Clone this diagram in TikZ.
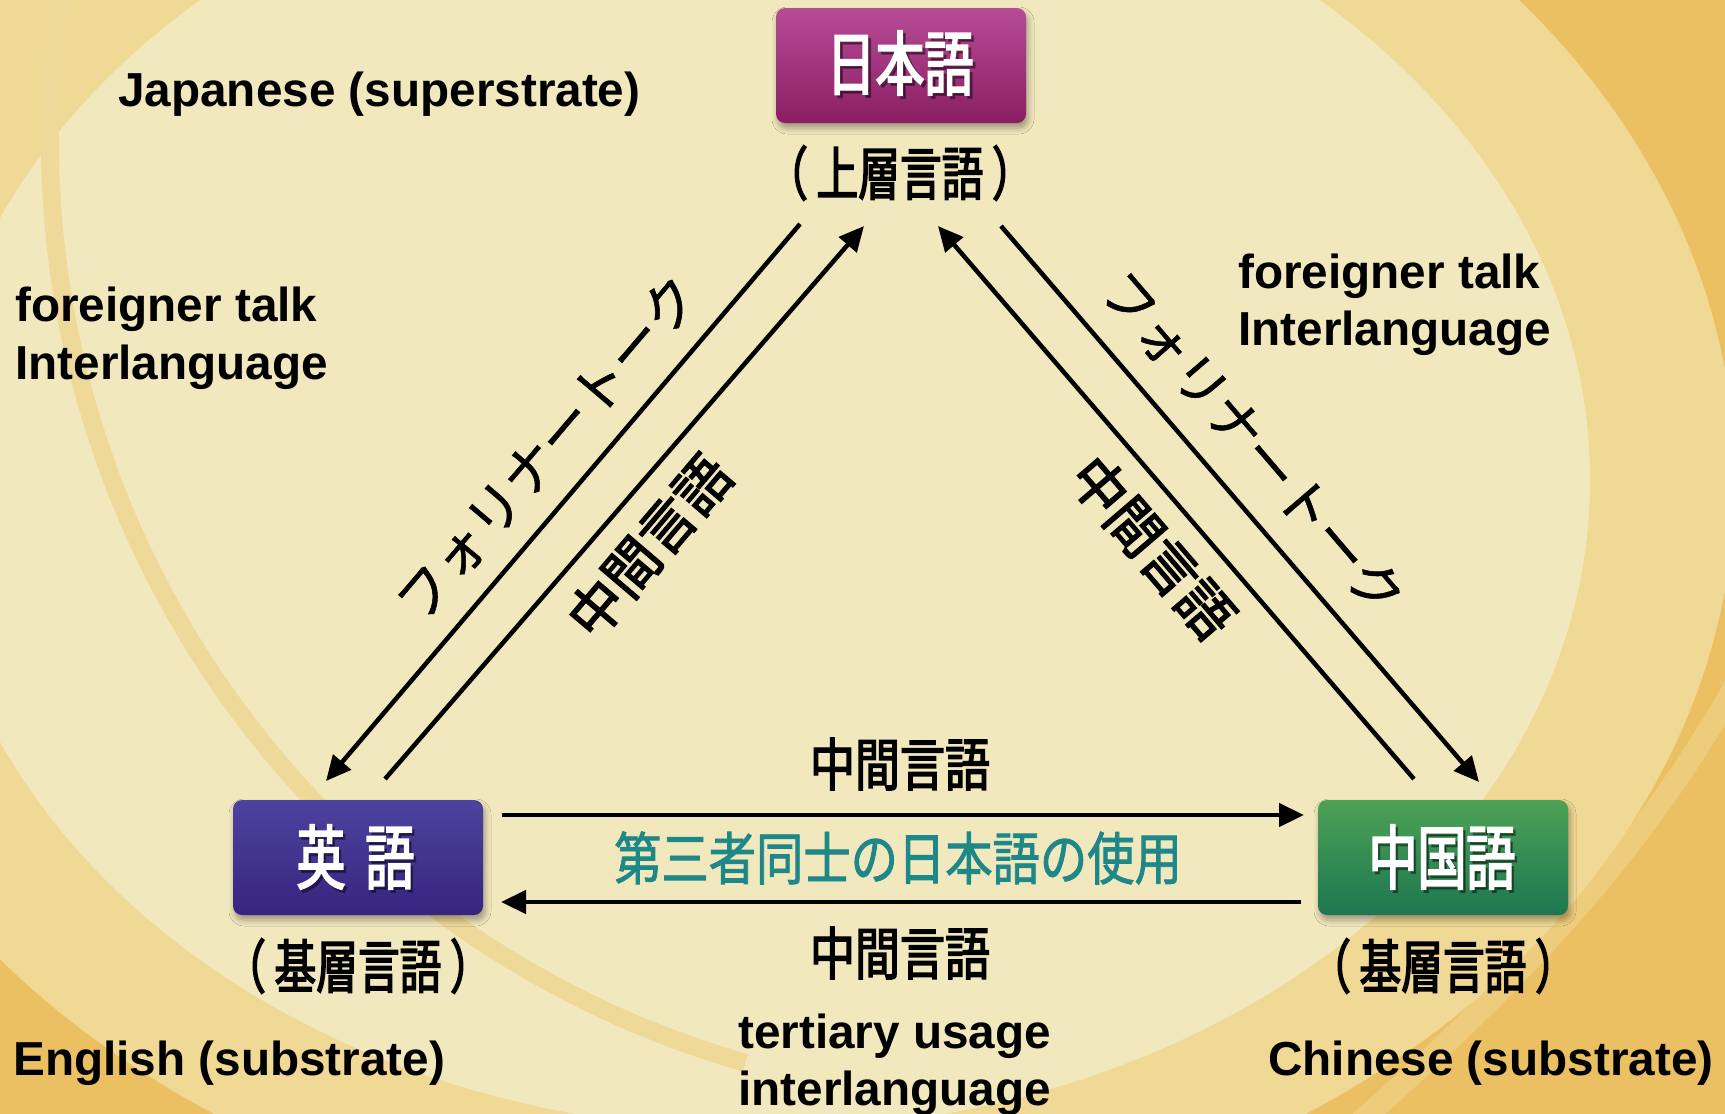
\documentclass[tikz,border=0pt]{standalone}
\usepackage{fontspec}
\setmainfont{Liberation Sans}
\newfontfamily\jpbox{Noto Sans CJK JP}[FakeStretch=0.70,FakeBold=2.5]
\newfontfamily\jpsub{Noto Sans CJK JP}[FakeStretch=0.72,FakeBold=2.5,RawFeature=+palt]
\newfontfamily\jpmid{Noto Sans CJK JP}[FakeStretch=0.79,FakeBold=2.5]
\newfontfamily\jpteal{Noto Sans CJK JP}[FakeStretch=0.83,FakeBold=1.5]
\newfontfamily\jpdiagm{Noto Sans CJK JP}[FakeStretch=0.97,FakeBold=2.5]
\newfontfamily\jpdiag{Noto Sans CJK JP}[FakeBold=1]
\usetikzlibrary{arrows.meta,shadows.blur}
\definecolor{bgpale}{HTML}{F2E8BE}
\definecolor{bgband}{HTML}{F0D994}
\definecolor{bggold}{HTML}{EBC062}
\definecolor{arcband}{HTML}{EFD999}
\definecolor{tealtext}{HTML}{1E8787}
\definecolor{jaTop}{HTML}{B54C96}
\definecolor{jaBot}{HTML}{8A1E62}
\definecolor{enTop}{HTML}{4C439E}
\definecolor{enBot}{HTML}{37247F}
\definecolor{zhTop}{HTML}{4DA256}
\definecolor{zhBot}{HTML}{1D7650}
\newcommand\fsz[1]{\fontsize{#1}{#1}\selectfont}
\begin{document}
\begin{tikzpicture}[x=1pt,y=-1pt,
  enlabel/.style={font=\fsz{47.7}\bfseries, inner sep=0pt, anchor=base west},
  langbox/.style={rounded corners=9pt, minimum width=250pt, minimum height=115pt, inner sep=0pt,
    blur shadow={shadow xshift=2pt, shadow yshift=-5pt, shadow blur radius=6pt, shadow opacity=35}},
  boxtext/.style={font=\jpbox\fsz{70}, text=white, inner sep=0pt},
  boxtextshadow/.style={font=\jpbox\fsz{70}, text=black, opacity=0.35, inner sep=0pt},
  sublabel/.style={font=\jpsub\fsz{58}, inner sep=0pt},
  midlabel/.style={font=\jpmid\fsz{57}, inner sep=0pt},
  teallabel/.style={font=\jpteal\fsz{57}, text=tealtext, inner sep=0pt},
  diagmid/.style={font=\jpdiagm\fsz{56}, inner sep=0pt},
  diagkana/.style={font=\jpdiag\fsz{54}, inner sep=0pt},
  arr/.style={line width=4.5pt, -{Triangle[length=25pt,width=23pt]}},
]
\useasboundingbox (0,0) rectangle (1725,1114);
% background
\begin{scope}
\clip (0,0) rectangle (1725,1114);
\fill[bggold] (0,0) rectangle (1725,1114);
\fill[bgband] (760,480) ellipse[x radius=975, y radius=765];
\fill[bgpale] (760,480) ellipse[x radius=830, y radius=650];
\draw[arcband, line width=18pt] (64.6,-26.7) arc[start angle=190, end angle=106, radius=960];
\draw[bgband, line width=22pt, opacity=0.5] (1760,640) .. controls (1650,850) and (1520,980) .. (1340,1140);
\end{scope}

% English annotations
\node[enlabel] (jpnen) at (118,106) {Japanese (superstrate)};
\node[enlabel] (ftl) at (15,321) {foreigner talk};
\node[enlabel] (ill) at (15,379) {Interlanguage};
\node[enlabel] (ftr) at (1238,288) {foreigner talk};
\node[enlabel] (ilr) at (1238,345) {Interlanguage};
\node[enlabel] (enen) at (13,1075) {English (substrate)};
\node[enlabel] (zhen) at (1268,1075) {Chinese (substrate)};
\node[enlabel] (tu) at (738,1048) {tertiary usage};
\node[enlabel] (ilg) at (738,1105) {interlanguage};

% language boxes
\node[langbox, top color=jaTop, bottom color=jaBot] (ja) at (901,65.5) {};
\node[boxtextshadow] (jas) at (903,66) {日本語};
\node[boxtext] (jat) at (900,63) {日本語};
\node[langbox, top color=enTop, bottom color=enBot] (en) at (358,857.5) {};
\node[boxtextshadow] (ens) at (358,860) {英\hspace{20pt}語};
\node[boxtext] (ent) at (355.5,857) {英\hspace{20pt}語};
\node[langbox, top color=zhTop, bottom color=zhBot] (zh) at (1443,857.5) {};
\node[boxtextshadow] (zhs) at (1444.5,860) {中国語};
\node[boxtext] (zht) at (1442,857) {中国語};

% sub labels
\node[sublabel] (jasub) at (900,173) {（\hspace{10pt}上層言語\hspace{10pt}）};
\node[sublabel] (ensub) at (358,966) {（\hspace{10pt}基層言語\hspace{10pt}）};
\node[sublabel] (zhsub) at (1443,966) {（\hspace{10pt}基層言語\hspace{10pt}）};

% connector end points
\coordinate (a1s) at (800,224);
\coordinate (a1e) at (326,781);
\coordinate (a2s) at (385,779);
\coordinate (a2e) at (864,226);
\coordinate (a3s) at (1414,779);
\coordinate (a3e) at (938,226);
\coordinate (a4s) at (1001,226);
\coordinate (a4e) at (1479,782);
\coordinate (h1s) at (502,815);
\coordinate (h1e) at (1304,815);
\coordinate (h2s) at (1301,902);
\coordinate (h2e) at (501,902);

\draw[arr] (a1s) -- (a1e);
\draw[arr] (a2s) -- (a2e);
\draw[arr] (a3s) -- (a3e);
\draw[arr] (a4s) -- (a4e);
\draw[arr] (h1s) -- (h1e);
\draw[arr] (h2s) -- (h2e);

% connector labels
\node[diagkana, rotate=49.6] (fkl) at (547,448) {フォリナートーク};
\node[diagmid, rotate=49.6] (mgl) at (649,546) {中間言語};
\node[diagkana, rotate=-49.4] (fkr) at (1253,443) {フォリナートーク};
\node[diagmid, rotate=-49.4] (mgr) at (1153,547) {中間言語};
\node[midlabel] (mgt) at (900,764) {中間言語};
\node[teallabel] (tl) at (898,858) {第三者同士の日本語の使用};
\node[midlabel] (mgb) at (900,953) {中間言語};
\end{tikzpicture}
\end{document}
